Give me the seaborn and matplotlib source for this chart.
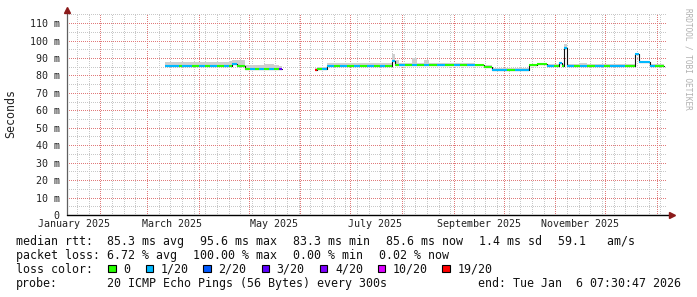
import matplotlib
matplotlib.use("Agg")
import matplotlib.pyplot as plt
import matplotlib.dates as mdates
from matplotlib.ticker import MultipleLocator, FixedLocator, FixedFormatter, NullFormatter
from matplotlib.patches import Rectangle
import seaborn as sns
import pandas as pd

# ---------------- data ----------------
dates = [
    "2025-03-12", "2025-03-16", "2025-03-20", "2025-03-22", "2025-03-28", "2025-04-01",
    "2025-04-05", "2025-04-08", "2025-04-12", "2025-04-16", "2025-04-19", "2025-04-21",
    "2025-04-24", "2025-04-29", "2025-05-02", "2025-05-05", "2025-05-07", "2025-05-10",
    "2025-05-13", "2025-05-16", "2025-05-19", "2025-05-21",
    "2025-06-10", "2025-06-11", "2025-06-14", "2025-06-17", "2025-06-21", "2025-06-25",
    "2025-06-29", "2025-07-03", "2025-07-07", "2025-07-11", "2025-07-15", "2025-07-19",
    "2025-07-22", "2025-07-26", "2025-07-28", "2025-07-30", "2025-08-03", "2025-08-07",
    "2025-08-10", "2025-08-14", "2025-08-17", "2025-08-22", "2025-08-27", "2025-09-01",
    "2025-09-05", "2025-09-09", "2025-09-14", "2025-09-19", "2025-09-24", "2025-09-29",
    "2025-10-03", "2025-10-08", "2025-10-12", "2025-10-16", "2025-10-21", "2025-10-27",
    "2025-10-31", "2025-11-03", "2025-11-05", "2025-11-06", "2025-11-08", "2025-11-12",
    "2025-11-16", "2025-11-20", "2025-11-25", "2025-11-30", "2025-12-04", "2025-12-09",
    "2025-12-13", "2025-12-19", "2025-12-21", "2025-12-28", "2025-12-31", "2026-01-03",
    "2026-01-05",
]
median_ms = [
    85.3, 85.3, 85.3, 85.3, 85.3, 85.3,
    85.3, 85.3, 85.3, 85.3, 85.3, 86.6,
    85.4, 83.5, 83.5, 83.5, 83.5, 83.5,
    83.5, 83.5, 83.5, 83.5,
    83.2, 83.5, 83.5, 85.5, 85.5, 85.5,
    85.5, 85.5, 85.5, 85.5, 85.5, 85.5,
    85.5, 88.0, 86.0, 85.7, 85.9, 85.7,
    85.7, 85.7, 85.7, 85.7, 85.7, 85.7,
    85.7, 85.7, 85.7, 84.7, 83.1, 83.1,
    83.1, 83.1, 83.1, 86.0, 86.4, 85.5,
    85.5, 86.9, 85.5, 95.5, 85.5, 85.5,
    85.5, 85.5, 85.5, 85.5, 85.5, 85.5,
    85.5, 92.3, 87.9, 85.5, 85.5, 85.5,
    85.5,
]
smoke_top_ms = [
    87.9, 87.9, 87.9, 87.9, 87.7, 87.7,
    87.9, 87.6, 87.6, 87.6, 88.0, 88.8,
    88.6, 86.2, 86.0, 86.2, 86.2, 86.4,
    86.4, 86.2, 85.6, 85.6,
    84.5, 84.9, 84.9, 87.1, 87.3, 87.3,
    87.1, 87.1, 87.1, 87.1, 87.1, 87.1,
    87.1, 92.3, 89.0, 87.0, 87.0, 90.0,
    87.0, 88.8, 87.0, 87.0, 87.0, 87.0,
    87.0, 87.0, 86.8, 86.0, 84.3, 84.3,
    84.3, 84.3, 84.3, 86.8, 87.2, 86.4,
    86.4, 87.5, 86.4, 98.0, 86.4, 86.4,
    87.0, 86.4, 86.4, 86.4, 86.4, 86.4,
    86.4, 93.0, 88.3, 86.3, 86.3, 86.3,
    86.3,
]
loss_level = [
    1, 1, 0, 1, 0, 1,
    0, 1, 0, 1, 0, 1,
    0, 0, 1, 0, 1, 0,
    1, 0, 3, 3,
    6, 0, 1, 1, 0, 1,
    0, 1, 0, 1, 0, 1,
    0, 1, 0, 1, 0, 1,
    0, 1, 0, 1, 0, 1,
    0, 1, 0, 0, 1, 1,
    0, 1, 1, 0, 0, 1,
    0, 1, 0, 1, 1, 0,
    1, 0, 1, 0, 1, 1,
    0, 1, 1, 1, 0, 0,
    0,
]
segment = [1] * 22 + [2] * 55

y_ticks = [0, 10, 20, 30, 40, 50, 60, 70, 80, 90, 100, 110]
y_labels = ["0", "10 m", "20 m", "30 m", "40 m", "50 m", "60 m", "70 m",
            "80 m", "90 m", "100 m", "110 m"]
x_label_dates = ["2025-01-16", "2025-03-16", "2025-05-16", "2025-07-16",
                 "2025-09-16", "2025-11-16"]
x_labels = ["January 2025", "March 2025", "May 2025", "July 2025",
            "September 2025", "November 2025"]

loss_labels = ["0", "1/20", "2/20", "3/20", "4/20", "10/20", "19/20"]
loss_colors = ["#26ff00", "#00b8ff", "#0059ff", "#5e00ff", "#7e00ff", "#dd00ff", "#ff0000"]

stats_rtt = ["median rtt:", "85.3 ms avg", "95.6 ms max", "83.3 ms min",
             "85.6 ms now", "1.4 ms sd", "59.1   am/s"]
stats_loss = ["packet loss:", "6.72 % avg", "100.00 % max", "0.00 % min", "0.02 % now"]
probe_text = ["probe:", "20 ICMP Echo Pings (56 Bytes) every 300s",
              "end: Tue Jan  6 07:30:47 2026"]

# ---------------- layout ----------------
W, H = 697, 297
sns.set_theme(style="white")
plt.rcParams["font.family"] = ["DejaVu Sans Mono"]

fig = plt.figure(figsize=(W / 100, H / 100), dpi=100)
fig.patch.set_facecolor("white")
ax_left, ax_right, ax_bottom_px, ax_top_px = 67, 667, 215, 13.5
ax = fig.add_axes([ax_left / W, (H - ax_bottom_px) / H,
                   (ax_right - ax_left) / W, (ax_bottom_px - ax_top_px) / H])
ax.set_facecolor("white")

df = pd.DataFrame({
    "date": pd.to_datetime(dates),
    "median": median_ms,
    "top": smoke_top_ms,
    "loss": loss_level,
    "seg": segment,
})

# smoke
for s, g in df.groupby("seg"):
    ax.fill_between(g["date"], g["median"], g["top"], step="post",
                    color="#cfcfcf", lw=0, zorder=2)

# dark median line (vertical transitions)
sns.lineplot(data=df, x="date", y="median", units="seg", estimator=None,
             color="#111111", lw=0.8, drawstyle="steps-post", ax=ax,
             legend=False, zorder=3)

# loss-coloured median segments
for s, g in df.groupby("seg"):
    g = g.reset_index(drop=True)
    for i in range(len(g) - 1):
        ax.hlines(g.loc[i, "median"], g.loc[i, "date"], g.loc[i + 1, "date"],
                  color=loss_colors[g.loc[i, "loss"]], lw=1.5, zorder=4)

ax.set_xlim(pd.Timestamp("2025-01-12"), pd.Timestamp("2026-01-07"))
ax.set_ylim(0, 115.5)
ax.set_xlabel("")
ax.set_ylabel("")

# grid
ax.xaxis.set_major_locator(mdates.MonthLocator())
ax.xaxis.set_minor_locator(mdates.WeekdayLocator(byweekday=mdates.SA))
ax.xaxis.set_major_formatter(NullFormatter())
ax.xaxis.set_minor_formatter(NullFormatter())
ax.yaxis.set_major_locator(FixedLocator(y_ticks))
ax.yaxis.set_major_formatter(FixedFormatter(y_labels))
ax.yaxis.set_minor_locator(MultipleLocator(5))
ax.grid(which="minor", color="#c8c8c8", lw=0.72, ls=(0, (0.7, 1.3)), antialiased=False)
ax.grid(which="major", color="#e07a7a", lw=0.72, ls=(0, (0.7, 1.3)), antialiased=False)
ax.set_axisbelow(True)

for sp in ["top", "right"]:
    ax.spines[sp].set_visible(False)
ax.spines["left"].set_color("#606060")
ax.spines["left"].set_linewidth(0.9)
ax.spines["bottom"].set_visible(False)

ax.tick_params(axis="y", which="major", direction="inout", length=4, width=0.7,
               color="#606060", pad=3.2, labelsize=7.2, labelcolor="#222222")
ax.tick_params(axis="y", which="minor", direction="inout", length=2, width=0.7,
               color="#606060")
ax.tick_params(axis="x", which="major", direction="inout", length=4, width=0.7,
               color="#a04040")
ax.tick_params(axis="x", which="minor", direction="inout", length=2, width=0.7,
               color="#808080")

for d, lab in zip(x_label_dates, x_labels):
    ax.annotate(lab, xy=(mdates.date2num(pd.Timestamp(d)), 0),
                xycoords=("data", "axes fraction"), xytext=(0, -3.0),
                textcoords="offset points", ha="center", va="top",
                fontsize=7.2, color="#222222", annotation_clip=False)

# axis lines with arrow heads
ax.plot([0, 1.006], [0, 0], color="#000000", lw=1.0, transform=ax.transAxes,
        clip_on=False, zorder=5)
ax.plot([1.008], [0], marker=">", ms=4, color="#8b1a1a",
        transform=ax.transAxes, clip_on=False, zorder=6)
ax.plot([0], [1.0 + 4 / 201.5], marker="^", ms=4, color="#8b1a1a",
        transform=ax.transAxes, clip_on=False, zorder=6)

# y axis title
fig.text(11 / W, 1 - 114 / H, "Seconds", rotation=90, ha="center", va="center",
         fontsize=8.4, color="#222222")

# watermark
fig.text(688 / W, 1 - 59 / H, "RRDTOOL / TOBI OETIKER", rotation=270,
         ha="center", va="center", fontsize=5.6, color="#b0b0b0")

# legend / stats text
FS = 8.4
def t(xpx, ypx, s):
    fig.text(xpx / W, 1 - ypx / H, s, ha="left", va="center", fontsize=FS,
             color="#111111")

rtt_x = [16, 107.3, 200, 293.3, 386, 479.3, 558.3]
for xp, s in zip(rtt_x, stats_rtt):
    t(xp, 241.3, s)
loss_x = [16, 107.3, 193.3, 293.3, 379.3]
for xp, s in zip(loss_x, stats_loss):
    t(xp, 255.3, s)
t(16, 269.3, "loss color:")
box_x = [108.3, 146, 203.3, 261.7, 320, 377.7, 442.3]
for xp, lab, col in zip(box_x, loss_labels, loss_colors):
    fig.patches.append(Rectangle((xp / W, 1 - 272 / H), 7.3 / W, 7.3 / H,
                                 transform=fig.transFigure, facecolor=col,
                                 edgecolor="black", lw=0.8))
    t(xp + 15, 269.3, lab)
probe_x = [16, 107.3, 478.3]
for xp, s in zip(probe_x, probe_text):
    t(xp, 283.7, s)

fig.savefig("out.png", dpi=100, facecolor="white")
